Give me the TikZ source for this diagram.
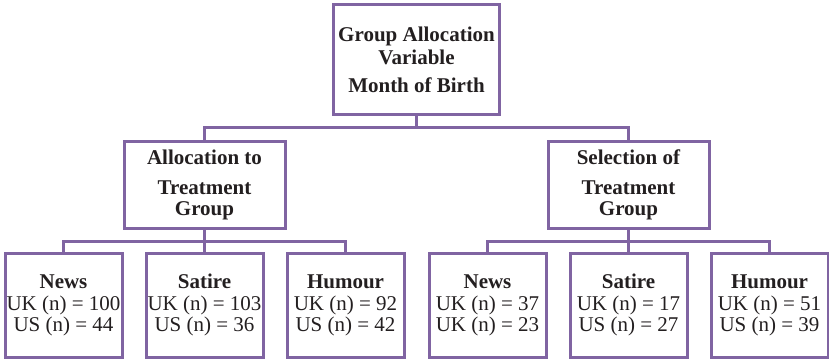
\documentclass[tikz,border=0pt]{standalone}
\usepackage{fontspec}
\setmainfont{Liberation Serif}
\usepackage{xcolor}
\usepackage{tikz}
\usetikzlibrary{trees}
\definecolor{boxpurple}{HTML}{8064A2}
\definecolor{inktext}{HTML}{231F20}

\begin{document}
\begin{tikzpicture}[
      x=1pt, y=1pt,
      level 1/.style={level distance=80.5pt, sibling distance=424pt,
        nodes={minimum width=161pt, minimum height=87pt}},
      level 2/.style={level distance=66.5pt, sibling distance=141pt,
        nodes={minimum width=117pt, minimum height=104pt}},
      every node/.style={rectangle, draw=boxpurple, line width=3pt, anchor=north,
        align=center, inner sep=0pt, text=inktext, font=\fontsize{21}{21}\selectfont},
      edge from parent/.style={draw=boxpurple, line width=3pt},
      edge from parent path={(\tikzparentnode.south) -- ++(0,-11.5) -| (\tikzchildnode.north)}
    ]
      \useasboundingbox (0,0) rectangle (829,-361);
      \node[minimum width=166pt, minimum height=110pt] (groupvar) at (416.5,-3)
        {\textbf{Group Allocation}\\[2pt] \textbf{Variable}\\[7pt] \textbf{Month of Birth}}
        child {node (alloctreat) {\textbf{Allocation to}\\[9pt] \textbf{Treatment}\\ \textbf{Group}}
          child {node (allocnews) {\textbf{News}\\[1pt] UK (n) = 100\\ US (n) = 44}}
          child {node (allocsatire) {\textbf{Satire}\\[1pt] UK (n) = 103\\ US (n) = 36}}
          child {node (allochumour) {\textbf{Humour}\\[1pt] UK (n) = 92\\ US (n) = 42}}
        }
        child {node (selecttreat) {\textbf{Selection of}\\[9pt] \textbf{Treatment}\\ \textbf{Group}}
          child {node (selectnews) {\textbf{News}\\[1pt] UK (n) = 37\\ UK (n) = 23}}
          child {node (selectsatire) {\textbf{Satire}\\[1pt] UK (n) = 17\\ US (n) = 27}}
          child {node (selecthumour) {\textbf{Humour}\\[1pt] UK (n) = 51\\ US (n) = 39}}
        };
    \end{tikzpicture}
\end{document}
